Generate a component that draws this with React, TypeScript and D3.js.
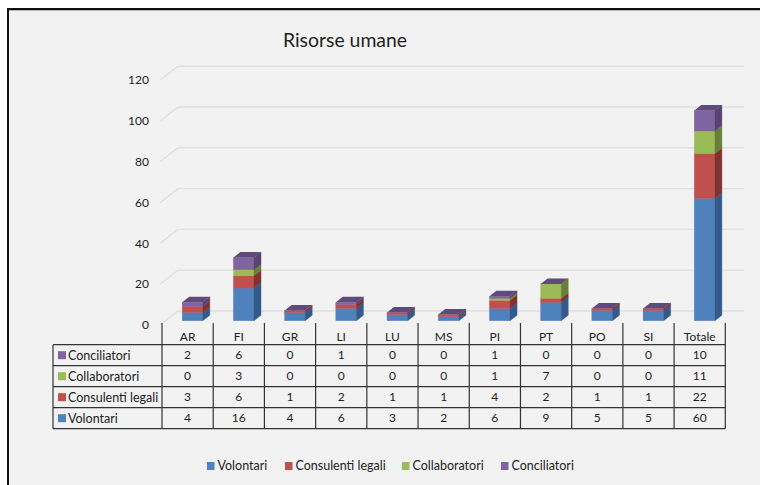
import React from 'react';
import * as d3 from 'd3';

const categories = ['AR', 'FI', 'GR', 'LI', 'LU', 'MS', 'PI', 'PT', 'PO', 'SI', 'Totale'];
const seriesNames = ['Volontari', 'Consulenti legali', 'Collaboratori', 'Conciliatori'];

const volontari = [4, 16, 4, 6, 3, 2, 6, 9, 5, 5, 60];
const consulenti = [3, 6, 1, 2, 1, 1, 4, 2, 1, 1, 22];
const collaboratori = [0, 3, 0, 0, 0, 0, 1, 7, 0, 0, 11];
const conciliatori = [2, 6, 0, 1, 0, 0, 1, 0, 0, 0, 10];

const seriesValues = [volontari, consulenti, collaboratori, conciliatori];
const yTicks = [0, 20, 40, 60, 80, 100, 120];
const legendX = [207, 285, 402, 501];

const colors = ['#4f81bd', '#c0504d', '#9bbb59', '#8064a2'];
const sideColors = ['#335a8a', '#7f322f', '#677f38', '#57436f'];
const topColor = '#5f4a7c';

const font = 'Lato, "Open Sans", sans-serif';
const textColor = '#222';
const lineColor = '#333';

// Measurements
const tableLeft = 53;
const plotLeft = 162;
const plotRight = 725.3;
const rowTop = 344.7;
const rowHeight = 21;
const gridBack = { x0: 178, x1: 744, dx: 18, dy: 14 };
const barDepth = { dx: 7, dy: 5.5 };
const barWidth = 20.6;
const barOffset = 20.2;
const barDrop = 9.7;
const labelSize = 12.5;

function App() {
	const xscale = d3.scaleBand<string>().domain(categories).range([plotLeft, plotRight]);
	const yscale = d3.scaleLinear().domain([0, 120]).range([311, 66.2]);

	const rows = categories.map((c, i) => {
		const row: Record<string, any> = { name: c };
		seriesNames.forEach((s, k) => {
			row[s] = seriesValues[k][i];
		});
		return row;
	});
	const stacked = d3.stack<any>().keys(seriesNames)(rows);

	const band = xscale.bandwidth();
	const tableRows = [...seriesNames].reverse();
	const rowY = d3
		.scaleBand<string>()
		.domain(tableRows)
		.range([rowTop, rowTop + rowHeight * tableRows.length]);
	const tableBottom = rowTop + rowHeight * tableRows.length;

	return (
		<svg
			width={760}
			height={485}
			style={{ position: 'absolute', left: 0, top: 0, fontFamily: font }}
		>
			<rect x={0} y={0} width={760} height={485} fill="#fff" />
			<rect x={8} y={9} width={752} height={476} fill="#f2f2f2" />
			<line x1={7} y1={9} x2={760} y2={9} stroke="#111" strokeWidth={2} />
			<line x1={8} y1={8} x2={8} y2={485} stroke="#111" strokeWidth={2} />
			<line x1={9} y1={10.5} x2={760} y2={10.5} stroke="#b5b5b5" strokeWidth={1} />

			<text x={345} y={47} textAnchor="middle" fontSize={19.4} fill="#1f1f1f">
				Risorse umane
			</text>

			{/* Grid */}
			{yTicks.map((t) => (
				<g key={t}>
					<path
						d={`M${gridBack.x0 - gridBack.dx},${yscale(t) + gridBack.dy}L${gridBack.x0},${yscale(t)}L${gridBack.x1},${yscale(t)}`}
						fill="none"
						stroke="#e0e0e0"
						strokeWidth={1.4}
					/>
					<text
						x={149}
						y={yscale(t) + gridBack.dy}
						dy="0.35em"
						textAnchor="end"
						fontSize={12}
						fill={textColor}
					>
						{t}
					</text>
				</g>
			))}

			{/* Bars */}
			{categories.map((c, i) => {
				const x = xscale(c)! + barOffset;
				const y = (v: number) => yscale(v) + barDrop;
				const { dx, dy } = barDepth;
				const top = y(stacked[stacked.length - 1][i][1]);
				return (
					<g key={c}>
						{stacked.map((s, k) => {
							const y0 = y(s[i][0]);
							const y1 = y(s[i][1]);
							if (y0 - y1 <= 0) return null;
							return (
								<g key={k} strokeWidth={0.4}>
									<rect
										x={x}
										y={y1}
										width={barWidth}
										height={y0 - y1}
										fill={colors[k]}
										stroke={colors[k]}
									/>
									<path
										d={`M${x + barWidth},${y0}l${dx},${-dy}L${x + barWidth + dx},${y1 - dy}L${x + barWidth},${y1}Z`}
										fill={sideColors[k]}
										stroke={sideColors[k]}
									/>
								</g>
							);
						})}
						<path
							d={`M${x},${top}l${dx},${-dy}h${barWidth}l${-dx},${dy}Z`}
							fill={topColor}
						/>
					</g>
				);
			})}

			{/* Data table */}
			<g stroke={lineColor} strokeWidth={1.2} fill="none">
				{[...categories.map((c) => xscale(c)!), plotRight].map((x, i) => (
					<line key={i} x1={x} y1={323} x2={x} y2={tableBottom} />
				))}
				<line x1={tableLeft} y1={rowTop} x2={tableLeft} y2={tableBottom} />
				{[...tableRows.map((r) => rowY(r)!), tableBottom].map((y, i) => (
					<line key={i} x1={tableLeft} y1={y} x2={plotRight} y2={y} />
				))}
			</g>
			{categories.map((c) => (
				<text
					key={c}
					x={xscale(c)! + band / 2}
					y={336.5}
					dy="0.35em"
					textAnchor="middle"
					fontSize={12}
					fill={textColor}
				>
					{c}
				</text>
			))}
			{tableRows.map((name) => {
				const k = seriesNames.indexOf(name);
				const cy = rowY(name)! + rowHeight / 2;
				return (
					<g key={name}>
						<rect x={58} y={cy - 4} width={8} height={8} fill={colors[k]} />
						<text x={68} y={cy} dy="0.35em" fontSize={labelSize} fill={textColor}>
							{name}
						</text>
						{categories.map((c, i) => (
							<text
								key={c}
								x={xscale(c)! + band / 2}
								y={cy}
								dy="0.35em"
								textAnchor="middle"
								fontSize={12}
								fill={textColor}
							>
								{seriesValues[k][i]}
							</text>
						))}
					</g>
				);
			})}

			{/* Legend */}
			{seriesNames.map((name, k) => (
				<g key={name}>
					<rect x={legendX[k]} y={462} width={7.5} height={8} fill={colors[k]} />
					<text x={legendX[k] + 10.5} y={466} dy="0.35em" fontSize={labelSize} fill={textColor}>
						{name}
					</text>
				</g>
			))}
		</svg>
	);
}

export default App;
